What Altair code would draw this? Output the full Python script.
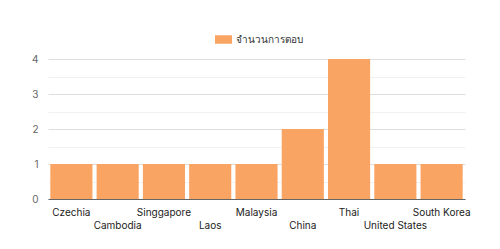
import altair as alt
import pandas as pd

countries = ["Czechia", "Cambodia", "Singgapore", "Laos", "Malaysia",
             "China", "Thai", "United States", "South Korea"]
counts = [1, 1, 1, 1, 1, 2, 4, 1, 1]
series_name = "จำนวนการตอบ"
bar_color = "#F9A462"
y_ticks = [0, 0.5, 1, 1.5, 2, 2.5, 3, 3.5, 4]

df = pd.DataFrame({"country": countries, "count": counts, "series": series_name})

lower_row = countries[1::2]
lower_list = "[" + ",".join("'" + c + "'" for c in lower_row) + "]"

chart = alt.Chart(df).mark_bar().encode(
    x=alt.X("country:N", sort=countries, title=None,
            scale=alt.Scale(paddingInner=0.09, paddingOuter=0.05),
            axis=alt.Axis(labelAngle=0, ticks=False, domainColor="#666666",
                          labelFont="Inter", labelFontSize=10, labelColor="#222222",
                          labelPadding=8, labelBaseline="top", labelLineHeight=13,
                          labelExpr="indexof(" + lower_list + ", datum.value) >= 0 ? ['', datum.label] : datum.label")),
    y=alt.Y("count:Q", title=None,
            scale=alt.Scale(domain=[0, 4], nice=False),
            axis=alt.Axis(values=y_ticks, ticks=False, domain=False,
                          labelExpr="datum.value % 1 ? '' : format(datum.value, 'd')",
                          labelFont="Inter", labelFontSize=10, labelColor="#666666",
                          labelPadding=10,
                          gridColor={"condition": {"test": "datum.value % 1 != 0", "value": "#f1f1f1"},
                                     "value": "#dedede"})),
    color=alt.Color("series:N", scale=alt.Scale(range=[bar_color]),
                    legend=alt.Legend(title=None, orient="none", legendX=167, legendY=-28,
                                      symbolType="M-1,-0.5L1,-0.5L1,0.5L-1,0.5Z",
                                      symbolSize=289, symbolStrokeWidth=0,
                                      labelFont="Inter", labelFontSize=10, labelColor="#333333")),
).properties(
    width=417, height=140,
    autosize=alt.AutoSizeParams(type="none"),
    padding={"left": 48, "top": 59, "right": 35, "bottom": 50},
).configure_view(stroke=None)

chart.save("out.html", embed_options={"renderer": "svg", "actions": False})
